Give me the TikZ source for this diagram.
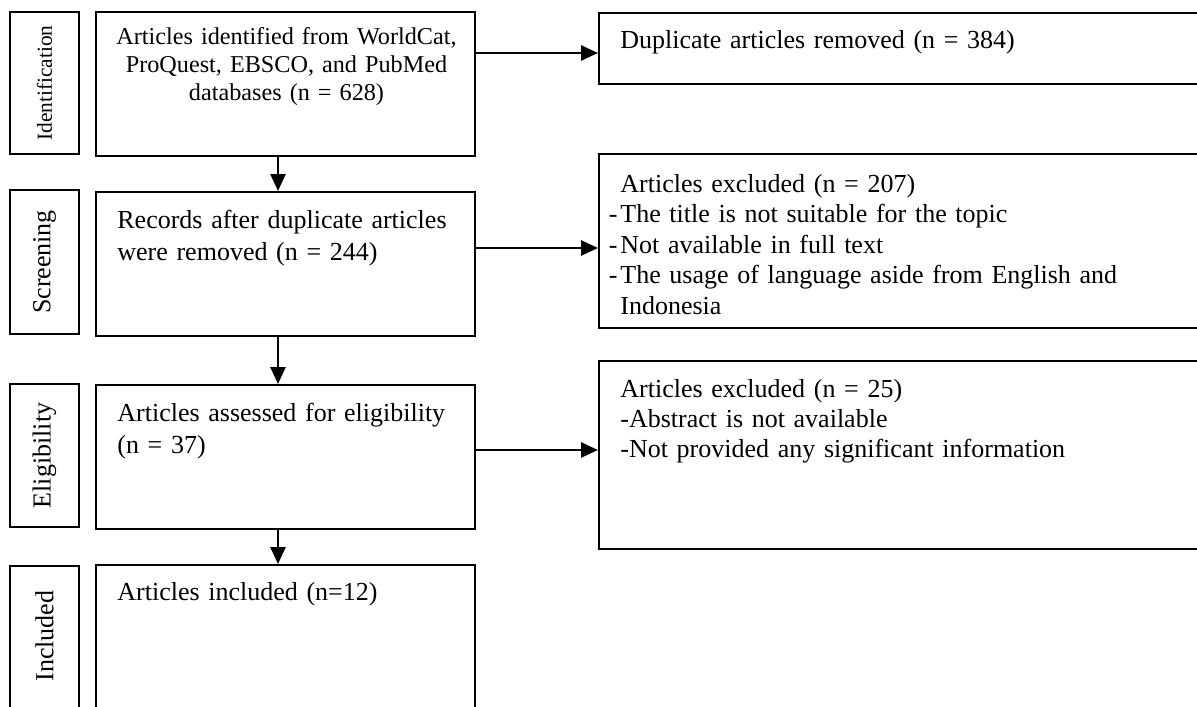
\documentclass[tikz,border=0pt]{standalone}
\usepackage{fontspec}
\setmainfont{Liberation Serif}
\usetikzlibrary{arrows.meta}
\newcommand{\hangdash}{\leavevmode\llap{-\kern1.5pt}}
\begin{document}
\begin{tikzpicture}[x=0.5pt,y=-0.5pt,
  box/.style={draw=black,line width=1pt,inner sep=0pt,fill=none},
  stagelabel/.style={rotate=90,inner sep=0pt,font=\fontsize{13}{15}\selectfont},
  arr/.style={line width=1.3pt,-{Triangle[length=8.5pt,width=7.5pt]}},
  txt/.style={inner sep=0pt,align=left,anchor=base west,text width=#1},
]
\useasboundingbox (0,0) rectangle (1197,706);
\clip (0,0) rectangle (1197,706);
\fill[white] (0,0) rectangle (1197,706);
% stage label boxes
\node[box,minimum width=34.5pt,minimum height=71pt] (l1) at (44.5,83) {};
\node[box,minimum width=34.5pt,minimum height=72pt] (l2) at (44.5,262) {};
\node[box,minimum width=34.5pt,minimum height=71.5pt] (l3) at (44.5,455.5) {};
\node[box,minimum width=34.5pt,minimum height=97.5pt] (l4) at (44.5,663) {};
\node[stagelabel,font=\fontsize{10.7}{12}\selectfont] (t1) at (l1.center) {Identification};
\node[stagelabel] (t2) at (l2.center) {Screening};
\node[stagelabel] (t3) at (l3.center) {Eligibility};
\node[stagelabel] (t4) at (44.5,636) {Included};
% main boxes
\node[box,minimum width=189.5pt,minimum height=72pt] (b1) at (285.5,84) {};
\node[box,minimum width=189.5pt,minimum height=72pt] (b2) at (285.5,264) {};
\node[box,minimum width=189.5pt,minimum height=72pt] (b3) at (285.5,457) {};
\node[box,minimum width=189.5pt,minimum height=97.5pt] (b4) at (285.5,662.5) {};
% right boxes
\node[box,minimum width=330.5pt,minimum height=35.5pt] (r1) at (929.5,48.5) {};
\node[box,minimum width=330.5pt,minimum height=87pt] (r2) at (929.5,241) {};
\node[box,minimum width=330.5pt,minimum height=94pt] (r3) at (929.5,455) {};
% texts
\node[inner sep=0pt,align=center,anchor=base,text width=185pt,font=\fontsize{12.1}{14}\selectfont] (x1) at (286.5,45)
  {Articles identified from WorldCat,\\ProQuest, EBSCO, and PubMed\\databases (n = 628)};
\node[txt=180pt,font=\fontsize{13}{16.25}\selectfont] (x2) at (117,228)
  {Records after duplicate articles\\were removed (n = 244)};
\node[txt=180pt,font=\fontsize{13}{16.25}\selectfont] (x3) at (117,421)
  {Articles assessed for eligibility\\(n = 37)};
\node[txt=180pt,font=\fontsize{13}{16.25}\selectfont] (x4) at (117,600)
  {Articles included (n=12)};
\node[txt=300pt,font=\fontsize{13}{15.3}\selectfont] (y1) at (620,49)
  {Duplicate articles removed (n = 384)};
\node[txt=300pt,font=\fontsize{13}{15.3}\selectfont] (y2) at (620,192)
  {Articles excluded (n = 207)\\
   \hangdash The title is not suitable for the topic\\
   \hangdash Not available in full text\\
   \hangdash The usage of language aside from English and\\
   Indonesia};
\node[txt=300pt,font=\fontsize{13}{15}\selectfont] (y3) at (620,397)
  {Articles excluded (n = 25)\\
   -Abstract is not available\\
   -Not provided any significant information};
% connectors
\coordinate (ax) at (278,0);
\coordinate (h1) at (0,53);
\coordinate (h2) at (0,248);
\coordinate (h3) at (0,450);
\draw[arr] (b1.south -| ax) -- (b2.north -| ax);
\draw[arr] (b2.south -| ax) -- (b3.north -| ax);
\draw[arr] (b3.south -| ax) -- (b4.north -| ax);
\draw[arr] (b1.east |- h1) -- (r1.west |- h1);
\draw[arr] (b2.east |- h2) -- (r2.west |- h2);
\draw[arr] (b3.east |- h3) -- (r3.west |- h3);
\end{tikzpicture}
\end{document}
